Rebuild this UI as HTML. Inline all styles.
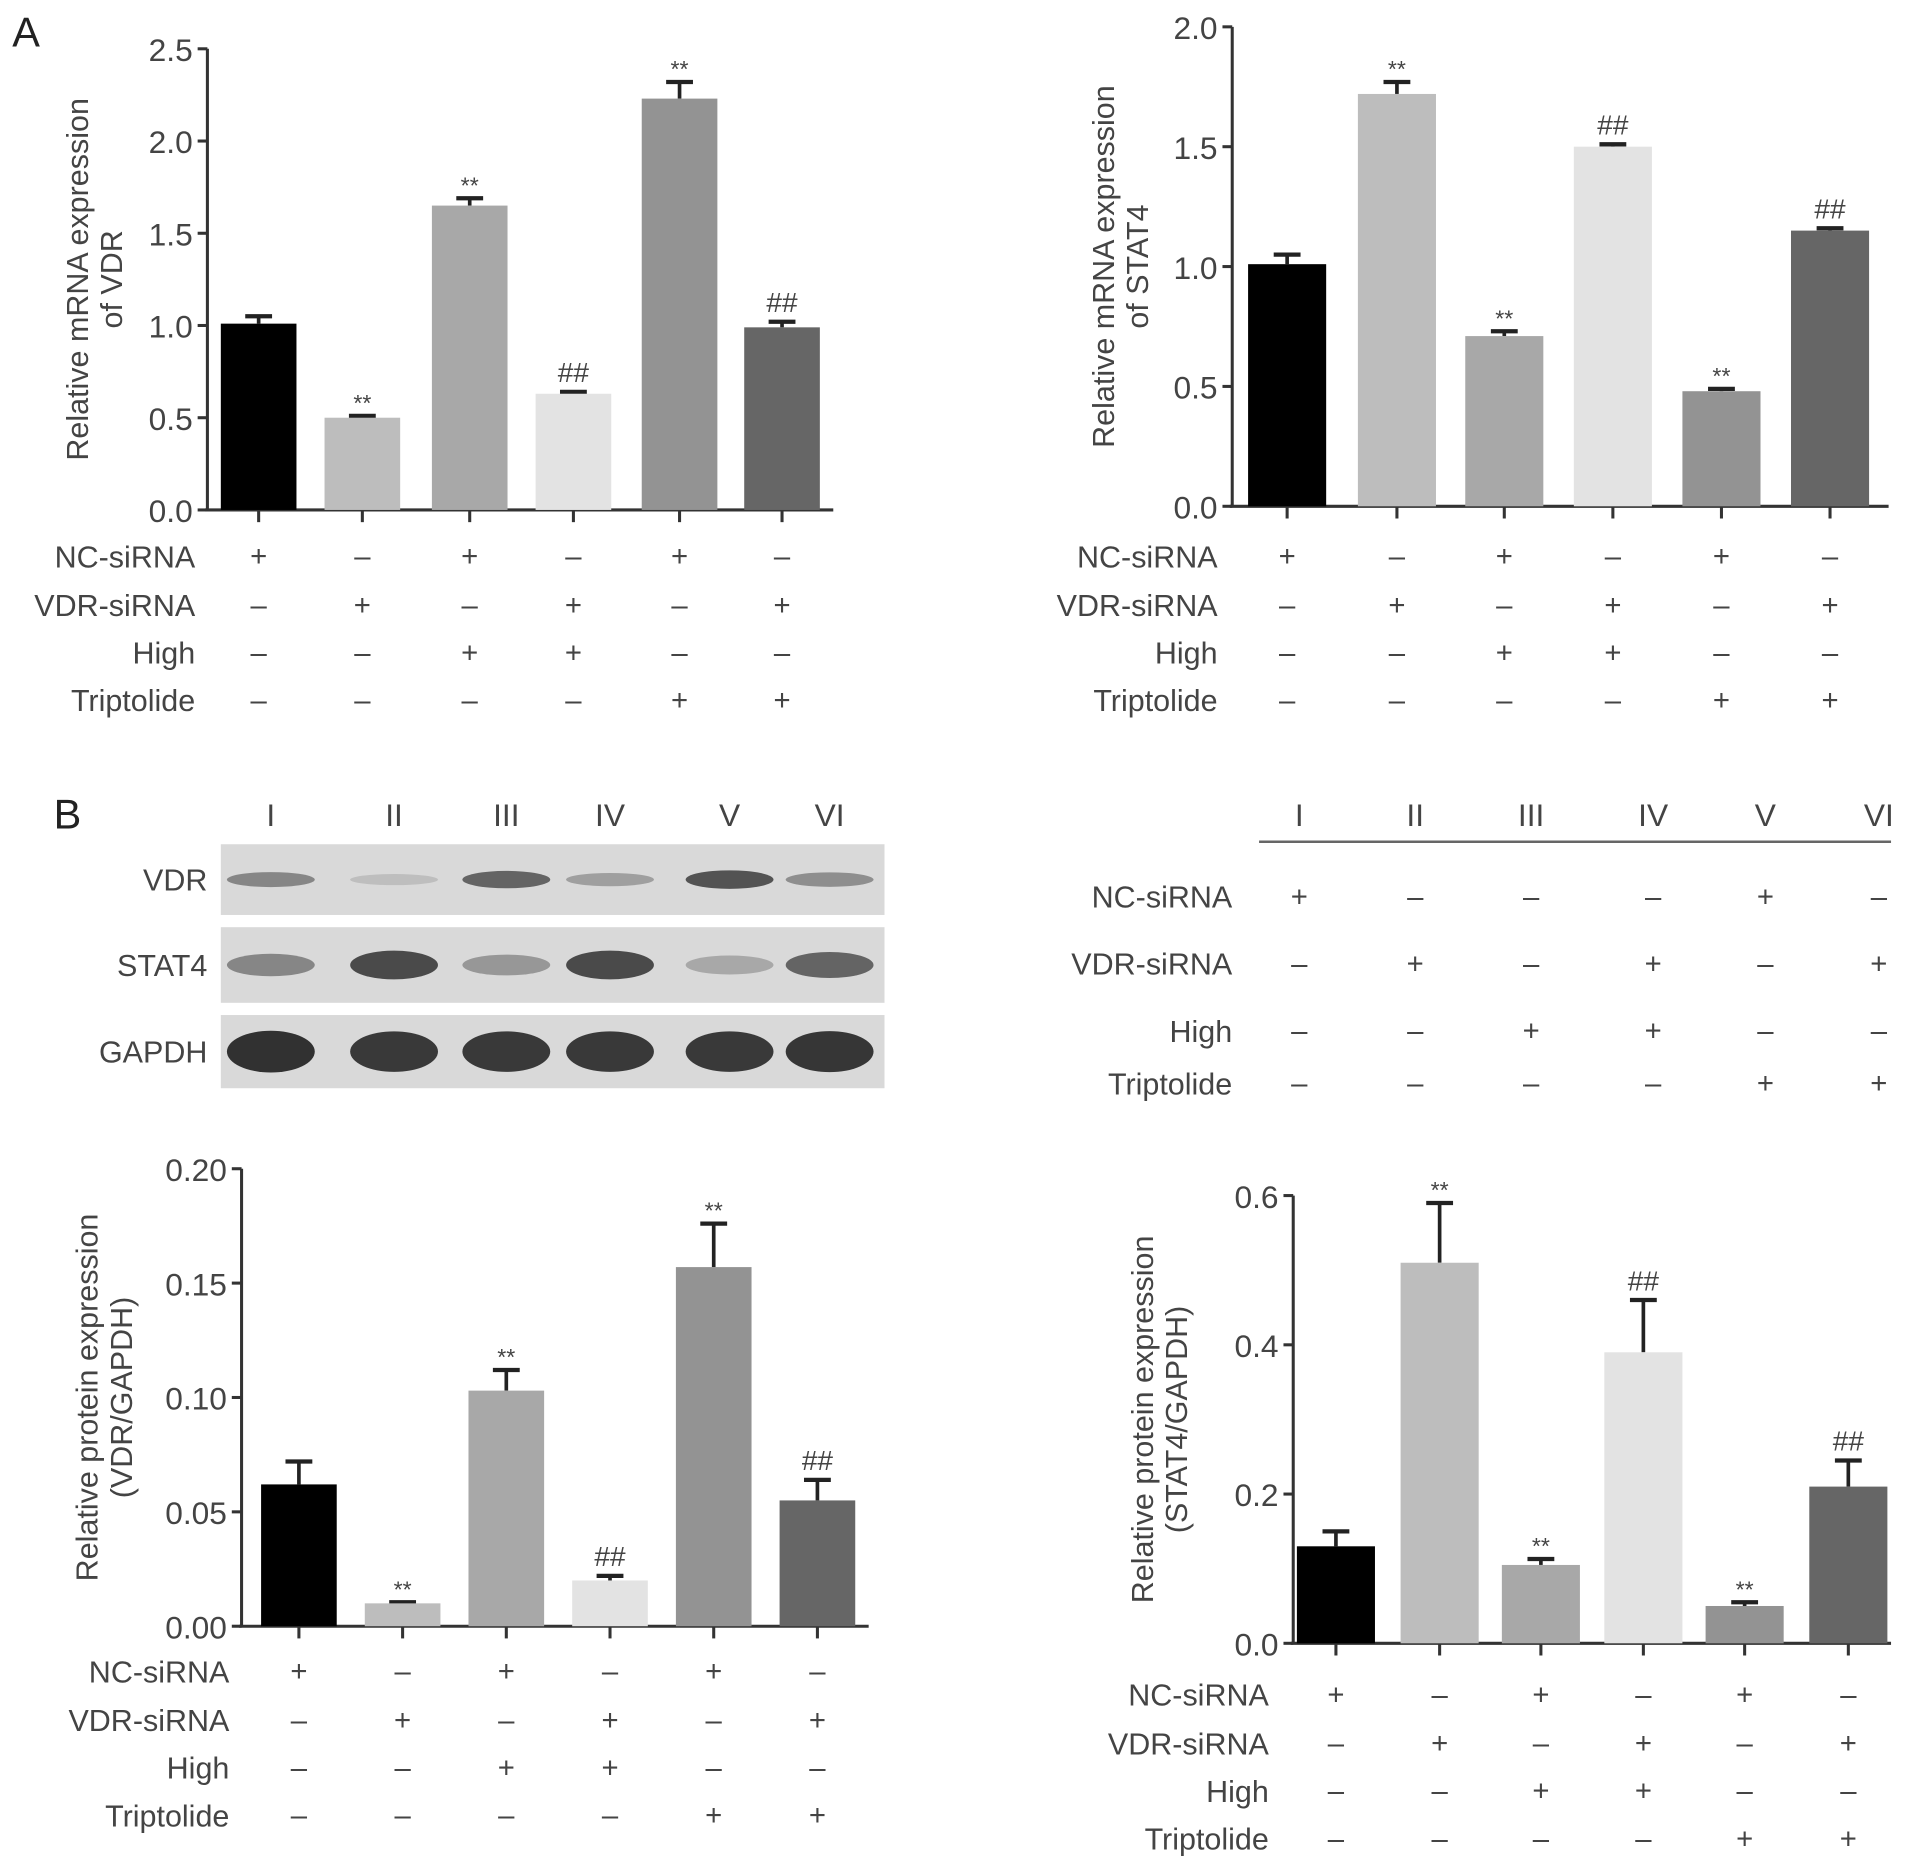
<!DOCTYPE html>
<html><head><meta charset="utf-8"><style>
html,body{margin:0;padding:0;background:#fff;}
svg{display:block;font-family:"Liberation Sans",sans-serif;}
text{fill:#444;}
</style></head><body>
<svg id="fig" width="1913" height="1869" viewBox="0 0 1568 1532" preserveAspectRatio="none" xmlns="http://www.w3.org/2000/svg">
<text x="10" y="38" font-size="34" style="fill:#222">A</text>
<text x="44" y="679" font-size="34" style="fill:#222">B</text>
</svg>
<script>
const rowNames = ["NC-siRNA","VDR-siRNA","High","Triptolide"];
const nc   = ["+","-","+","-","+","-"];
const vdr  = ["-","+","-","+","-","+"];
const high = ["-","-","+","+","-","-"];
const trip = ["-","-","-","-","+","+"];
const colors = ["#000","#bdbdbd","#a8a8a8","#e3e3e3","#939393","#666"];

const vdrMrna = [1.01,0.50,1.65,0.63,2.23,0.99];
const vdrMrnaErr = [0.04,0.01,0.04,0.01,0.09,0.03];
const vdrMrnaMarks = ["","**","**","##","**","##"];
const vdrMrnaTicks = ["0.0","0.5","1.0","1.5","2.0","2.5"];

const statMrna = [1.01,1.72,0.71,1.50,0.48,1.15];
const statMrnaErr = [0.04,0.05,0.02,0.01,0.01,0.01];
const statMrnaMarks = ["","**","**","##","**","##"];
const statMrnaTicks = ["0.0","0.5","1.0","1.5","2.0"];

const vdrProt = [0.062,0.010,0.103,0.020,0.157,0.055];
const vdrProtErr = [0.010,0.0005,0.009,0.002,0.019,0.009];
const vdrProtMarks = ["","**","**","##","**","##"];
const vdrProtTicks = ["0.00","0.05","0.10","0.15","0.20"];

const statProt = [0.13,0.51,0.105,0.39,0.05,0.21];
const statProtErr = [0.02,0.08,0.008,0.07,0.005,0.035];
const statProtMarks = ["","**","**","##","**","##"];
const statProtTicks = ["0.0","0.2","0.4","0.6"];

const romans = ["I","II","III","IV","V","VI"];
const NS="http://www.w3.org/2000/svg";
const svg=document.getElementById('fig');
function el(t,a,txt){const e=document.createElementNS(NS,t);for(const k in a)e.setAttribute(k,a[k]);if(txt!==undefined)e.textContent=txt;svg.appendChild(e);return e;}

function signs(name,cx,ys,labelX,fs){
  const rows=[nc,vdr,high,trip];
  rows.forEach((r,ri)=>{
    const t=el('text',{x:labelX,y:ys[ri]+9,'font-size':fs,'text-anchor':'end'},rowNames[ri]);
    
    
    r.forEach((s,i)=>{
      const g=el('text',{x:cx[i],y:ys[ri]+8,'font-size':24,'text-anchor':'middle'},s==="+"?"+":"\u2013");
      
      
    });
  });
}

function chart(o){
  const {name,ax,ay0,ay1,axEnd,max,ticks,vals,errs,marks,cx,bw,title,rowsY,labelX}=o;
  const Y=v=>ay0-(v/max)*(ay0-ay1);
  el('line',{x1:ax,y1:ay1,x2:ax,y2:ay0,stroke:'#333','stroke-width':2.5});
  el('line',{x1:ax-2,y1:ay0,x2:axEnd,y2:ay0,stroke:'#333','stroke-width':2.5});
  ticks.forEach((t,i)=>{
    const v=parseFloat(t);const y=Y(v);
    el('line',{x1:ax-8,y1:y,x2:ax,y2:y,stroke:'#333','stroke-width':2.5});
    const tx=el('text',{x:ax-12,y:y+10,'font-size':26,'text-anchor':'end'},t);
    
    
  });
  vals.forEach((v,i)=>{
    const x=cx[i];
    el('line',{x1:x,y1:ay0,x2:x,y2:ay0+10,stroke:'#333','stroke-width':2.5});
    const top=Y(v+errs[i]);
    el('line',{x1:x,y1:Y(v),x2:x,y2:top,stroke:'#222','stroke-width':3});
    el('line',{x1:x-11,y1:top,x2:x+11,y2:top,stroke:'#222','stroke-width':3.5});
    const b=el('rect',{x:x-bw/2,y:Y(v),width:bw,height:ay0-Y(v),fill:colors[i]});
    
    
    if(marks[i]){
      const m=el('text',{x:x,y:top-(marks[i]==="**"?4:8),'font-size':marks[i]==="**"?19:23,'text-anchor':'middle'},marks[i]);
      
      
    }
  });
  const tl=el('text',{transform:`translate(${o.titleX},${(ay0+ay1)/2}) rotate(-90)`,'font-size':25,'text-anchor':'middle'});
  
  
  title.forEach((l,k)=>{const ts=document.createElementNS(NS,'tspan');ts.setAttribute('x',0);ts.setAttribute('dy',k===0?0:28);ts.textContent=l;tl.appendChild(ts);});
  signs(name,cx,rowsY,labelX,25);
}

chart({name:'vdr-mrna',ax:170,ay0:418,ay1:40,axEnd:683,max:2.5,ticks:vdrMrnaTicks,vals:vdrMrna,errs:vdrMrnaErr,marks:vdrMrnaMarks,
  cx:[212,297,385,470,557,641],bw:62,title:["Relative mRNA expression","of VDR"],titleX:72,rowsY:[456,496,535,574],labelX:160});
chart({name:'stat4-mrna',ax:1010,ay0:415,ay1:22,axEnd:1548,max:2.0,ticks:statMrnaTicks,vals:statMrna,errs:statMrnaErr,marks:statMrnaMarks,
  cx:[1055,1145,1233,1322,1411,1500],bw:64,title:["Relative mRNA expression","of STAT4"],titleX:913,rowsY:[456,496,535,574],labelX:998});
chart({name:'vdr-protein',ax:198,ay0:1333,ay1:958,axEnd:712,max:0.20,ticks:vdrProtTicks,vals:vdrProt,errs:vdrProtErr,marks:vdrProtMarks,
  cx:[245,330,415,500,585,670],bw:62,title:["Relative protein expression","(VDR/GAPDH)"],titleX:80,rowsY:[1370,1410,1449,1488],labelX:188});
chart({name:'stat4-protein',ax:1060,ay0:1347,ay1:980,axEnd:1550,max:0.6,ticks:statProtTicks,vals:statProt,errs:statProtErr,marks:statProtMarks,
  cx:[1095,1180,1263,1347,1430,1515],bw:64,title:["Relative protein expression","(STAT4/GAPDH)"],titleX:945,rowsY:[1389,1429,1468,1507],labelX:1040});

// Western blot
const laneX=[222,323,415,500,598,680];
romans.forEach((r,i)=>{const t=el('text',{x:laneX[i],y:677,'font-size':26,'text-anchor':'middle'},r);
  });
const blotRows=[["VDR",692,750,[0.45,0.12,0.65,0.3,0.75,0.4],8],["STAT4",760,822,[0.45,0.8,0.35,0.8,0.25,0.65],12],["GAPDH",832,892,[0.95,0.9,0.9,0.9,0.9,0.92],16]];
const bandInt=blotRows.map(r=>r[3]);
blotRows.forEach((r,ri)=>{
  const bx=el('rect',{x:181,y:r[1],width:544,height:r[2]-r[1],fill:'#d9d9d9'});
  
  const t=el('text',{x:170,y:(r[1]+r[2])/2+9,'font-size':25,'text-anchor':'end'},r[0]);
  
  bandInt[ri].forEach((a,i)=>{
    const g=Math.round(210-a*170);
    const e=el('ellipse',{cx:laneX[i],cy:(r[1]+r[2])/2,rx:36,ry:r[4]*(0.5+a*0.6),fill:`rgb(${g},${g},${g})`});
    
  });
});

// Right table
const tabX=[1065,1160,1255,1355,1447,1540];
romans.forEach((r,i)=>{const t=el('text',{x:tabX[i],y:677,'font-size':26,'text-anchor':'middle'},r);
  });
el('line',{x1:1032,y1:690,x2:1550,y2:690,stroke:'#666','stroke-width':2});
const tabNc=["+","-","-","-","+","-"];
const tabRows=[tabNc,vdr,high,trip];const tabY=[735,790,845,888];
tabRows.forEach((row,ri)=>{
  const t=el('text',{x:1010,y:tabY[ri]+9,'font-size':25,'text-anchor':'end'},rowNames[ri]);
  
  row.forEach((s,i)=>{const g=el('text',{x:tabX[i],y:tabY[ri]+8,'font-size':24,'text-anchor':'middle'},s==="+"?"+":"\u2013");
    });
});
</script>
</body></html>
